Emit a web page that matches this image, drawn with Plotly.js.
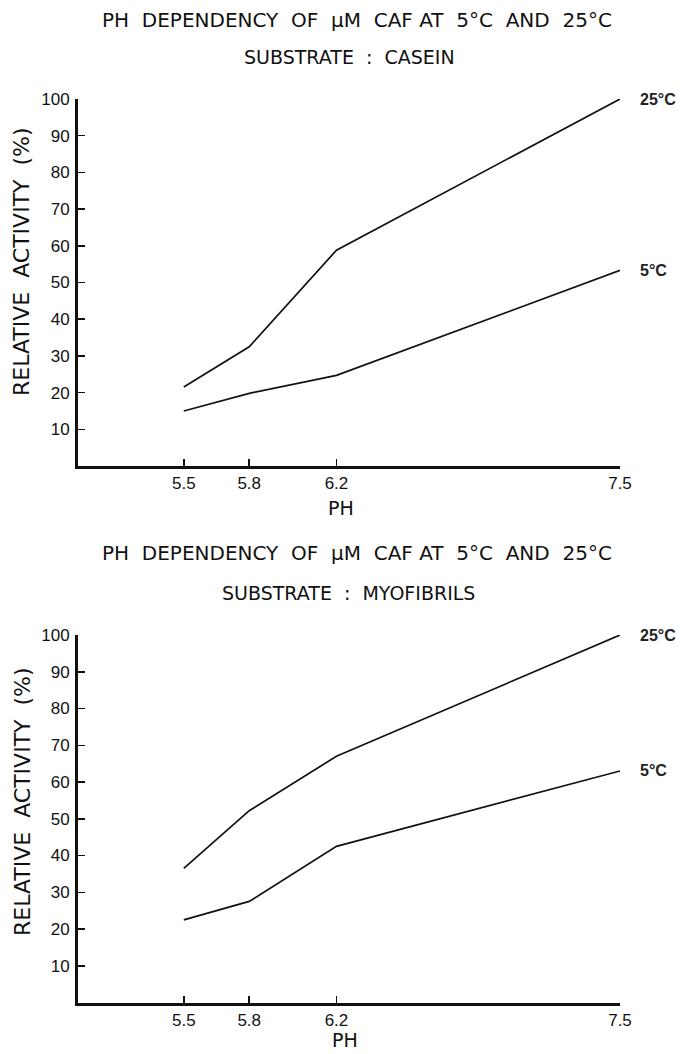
<!DOCTYPE html>
<html>
<head>
<meta charset="utf-8">
<script src="https://cdn.plot.ly/plotly-3.0.1.min.js"></script>
<style>
  html, body { margin: 0; padding: 0; background: #fff; }
  #chart { width: 699px; height: 1054px; }
</style>
</head>
<body>
<div id="chart"></div>
<script>
// pH values at which activity was measured
const phValues = [5.5, 5.8, 6.2, 7.5];
const phTickLabels = ['5.5', '5.8', '6.2', '7.5'];
const activityTicks = [10, 20, 30, 40, 50, 60, 70, 80, 90, 100];

// Relative activity (%) with casein as substrate
const casein25C = [21.5, 32.5, 58.8, 100];
const casein5C = [15, 19.8, 24.7, 53.3];

// Relative activity (%) with myofibrils as substrate
const myofibrils25C = [36.5, 52.2, 67, 100];
const myofibrils5C = [22.5, 27.5, 42.5, 63];

const seriesNames = ['25°C', '5°C'];
const nb = '\u00a0';
const mainTitle = 'PH' + nb + nb + 'DEPENDENCY' + nb + nb + 'OF' + nb + nb + '\u03bcM' + nb + nb +
                  'CAF' + nb + 'AT' + nb + nb + '5°C' + nb + nb + 'AND' + nb + nb + '25°C';
const subTitles = ['SUBSTRATE' + nb + nb + ':' + nb + nb + 'CASEIN',
                   'SUBSTRATE' + nb + nb + ':' + nb + nb + 'MYOFIBRILS'];
const yTitle = 'RELATIVE' + nb + nb + 'ACTIVITY' + nb + nb + '(%)';

const font = 'Liberation Sans, Arial, sans-serif';
const wideFont = 'DejaVu Sans, Liberation Sans, sans-serif';
const W = 699, H = 1054;
const px = v => v / W;
const py = v => 1 - v / H;

const line = {color: '#111', width: 1.7};
function trace(y, xa, ya, name) {
  return {x: phValues, y: y, xaxis: xa, yaxis: ya, name: name,
          type: 'scatter', mode: 'lines', line: line, hoverinfo: 'x+y'};
}

const traces = [
  trace(casein25C, 'x', 'y', seriesNames[0]),
  trace(casein5C, 'x', 'y', seriesNames[1]),
  trace(myofibrils25C, 'x2', 'y2', seriesNames[0]),
  trace(myofibrils5C, 'x2', 'y2', seriesNames[1])
];

const xDomain = [px(78), px(620)];
function xAxis(anchor) {
  return {
    domain: xDomain, anchor: anchor, range: [5.015, 7.5],
    tickmode: 'array', tickvals: phValues, ticktext: phTickLabels,
    ticks: 'inside', ticklen: 7, tickwidth: 1.5, tickcolor: '#111',
    showline: true, linecolor: '#111', linewidth: 3,
    showgrid: false, zeroline: false,
    tickfont: {family: font, size: 17, color: '#111'}
  };
}
function yAxis(anchor, top, bottom) {
  return {
    domain: [py(bottom), py(top)], anchor: anchor, range: [0, 100],
    tickmode: 'array', tickvals: activityTicks,
    ticks: 'inside', ticklen: 7, tickwidth: 1.5, tickcolor: '#111',
    showline: true, linecolor: '#111', linewidth: 3,
    showgrid: false, zeroline: false, ticklabelstandoff: 2,
    tickfont: {family: font, size: 17, color: '#111'}
  };
}

function txt(text, x, y, size, extra) {
  return Object.assign({
    text: text, x: x, y: y, xref: 'paper', yref: 'paper',
    showarrow: false, xanchor: 'center', yanchor: 'middle',
    font: {family: wideFont, size: size, color: '#111'}
  }, extra || {});
}
function endLabel(text, xa, ya, yv) {
  return {
    text: '<b>' + text + '</b>', x: phValues[phValues.length - 1], y: yv,
    xref: xa, yref: ya, showarrow: false, xanchor: 'left', yanchor: 'middle',
    xshift: 18, font: {family: font, size: 16, color: '#222'}
  };
}

const annotations = [
  txt(mainTitle, px(357), py(20), 20),
  txt(subTitles[0], px(349), py(57), 19),
  txt(mainTitle, px(357), py(553), 20),
  txt(subTitles[1], px(348), py(593), 19),
  txt(yTitle, px(22), py(262), 22, {textangle: -90}),
  txt(yTitle, px(22), py(802), 22, {textangle: -90}),
  txt('PH', px(341), py(508), 19),
  txt('PH', px(345), py(1040), 19),
  endLabel(seriesNames[0], 'x', 'y', casein25C[3]),
  endLabel(seriesNames[1], 'x', 'y', casein5C[3]),
  endLabel(seriesNames[0], 'x2', 'y2', myofibrils25C[3]),
  endLabel(seriesNames[1], 'x2', 'y2', myofibrils5C[3])
];

const layout = {
  width: W, height: H,
  margin: {l: 0, r: 0, t: 0, b: 0},
  paper_bgcolor: '#fff', plot_bgcolor: '#fff',
  showlegend: false,
  xaxis: xAxis('y'),
  yaxis: yAxis('x', 99, 466),
  xaxis2: xAxis('y2'),
  yaxis2: yAxis('x2', 635, 1002.5),
  annotations: annotations
};

Plotly.newPlot('chart', traces, layout, {displayModeBar: false, staticPlot: true});
</script>
</body>
</html>
